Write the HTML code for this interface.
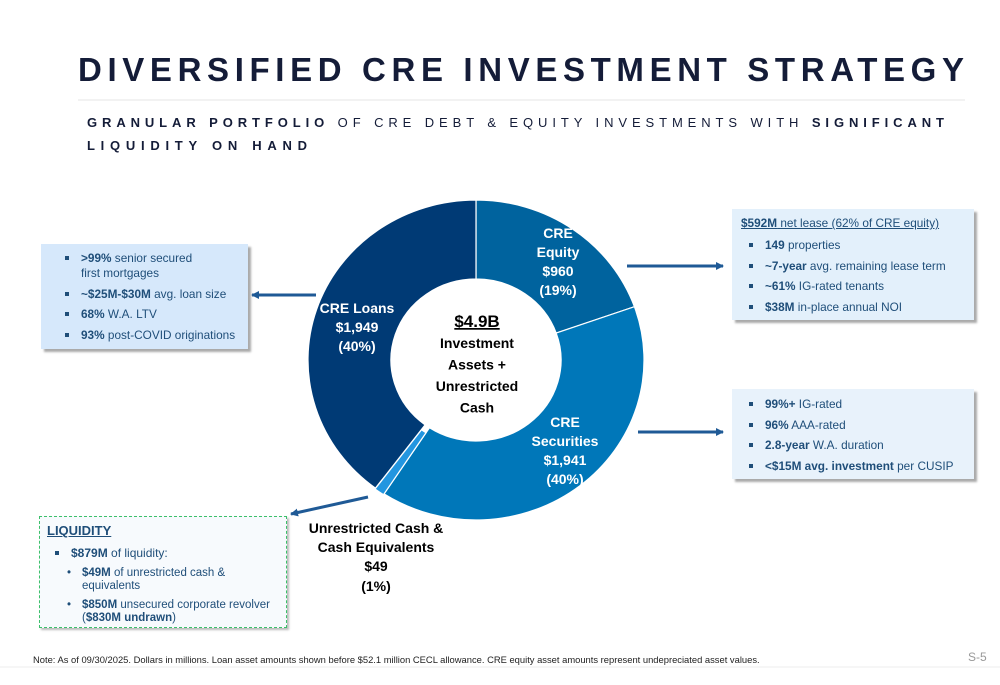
<!DOCTYPE html>
<html><head><meta charset="utf-8"><style>
body{margin:0;background:#fff;font-family:"Liberation Sans",sans-serif;}
#page{position:relative;width:1000px;height:685px;overflow:hidden;background:#fff}
.box{position:absolute;box-sizing:border-box;color:#1f4e79;font-size:12px;}
.box ul{margin:0;padding:0;list-style:none}
.box li{position:relative;padding-left:24px;line-height:15px;margin-bottom:5.5px}
.box li:before{content:"";position:absolute;left:8px;top:5px;width:4px;height:4px;background:#1f4e79}
b{font-weight:bold}
</style></head><body>
<div id="page">
<svg width="1000" height="685" style="position:absolute;left:0;top:0">
 <defs>
  <marker id="ah" markerWidth="8" markerHeight="8" refX="7" refY="4" orient="auto" markerUnits="userSpaceOnUse"><path d="M0,0 L8,4 L0,8 Z" fill="#1f5a96"/></marker>
 </defs>
 <text x="78" y="81" textLength="886" lengthAdjust="spacing" font-size="33" font-weight="bold" fill="#141c38" font-family="Liberation Sans">DIVERSIFIED CRE INVESTMENT STRATEGY</text>
 <line x1="78" y1="100" x2="965" y2="100" stroke="#e6e6e6" stroke-width="1"/>
 <text x="87" y="127" textLength="857" lengthAdjust="spacing" font-size="13" fill="#141c38"><tspan font-weight="bold">GRANULAR PORTFOLIO</tspan> OF CRE DEBT &amp; EQUITY INVESTMENTS WITH <tspan font-weight="bold">SIGNIFICANT</tspan></text>
 <text x="87" y="150" textLength="220" lengthAdjust="spacing" font-size="13" font-weight="bold" fill="#141c38">LIQUIDITY ON HAND</text>
 <g id="donut"></g>
 <g font-family="Liberation Sans" font-weight="bold" text-anchor="middle" font-size="14">
  <text x="558" y="238" fill="#fff"><tspan x="558">CRE</tspan><tspan x="558" dy="19">Equity</tspan><tspan x="558" dy="19">$960</tspan><tspan x="558" dy="19">(19%)</tspan></text>
  <text x="565" y="427" fill="#fff"><tspan x="565">CRE</tspan><tspan x="565" dy="19">Securities</tspan><tspan x="565" dy="19">$1,941</tspan><tspan x="565" dy="19">(40%)</tspan></text>
  <text x="357" y="313" fill="#fff"><tspan x="357">CRE Loans</tspan><tspan x="357" dy="19">$1,949</tspan><tspan x="357" dy="19">(40%)</tspan></text>
  <text x="477" y="327" fill="#000" font-size="17" text-decoration="underline">$4.9B</text>
  <text x="477" y="348" fill="#000"><tspan x="477">Investment</tspan><tspan x="477" dy="21.5">Assets +</tspan><tspan x="477" dy="21.5">Unrestricted</tspan><tspan x="477" dy="21.5">Cash</tspan></text>
  <text x="376" y="533" fill="#000"><tspan x="376">Unrestricted Cash &amp;</tspan><tspan x="376" dy="19">Cash Equivalents</tspan><tspan x="376" dy="19">$49</tspan><tspan x="376" dy="20">(1%)</tspan></text>
 </g>
 <g stroke="#1f5a96" stroke-width="3" marker-end="url(#ah)">
  <line x1="316" y1="295" x2="252" y2="295"/>
  <line x1="627" y1="266" x2="723" y2="266"/>
  <line x1="638" y1="432" x2="723" y2="432"/>
  <line x1="368" y1="497" x2="291" y2="514"/>
 </g>
 <text x="33" y="663" font-size="9.4" fill="#222">Note: As of 09/30/2025. Dollars in millions.  Loan asset amounts shown before $52.1 million CECL allowance.  CRE equity asset amounts represent undepreciated asset values.</text>
 <line x1="0" y1="667" x2="1000" y2="667" stroke="#eee"/>
 <text x="968" y="661" font-size="12" fill="#999">S-5</text>
</svg>

<div class="box" style="left:41px;top:244px;width:207px;height:105px;background:#d6e8fb;box-shadow:3px 3px 2px #aaa;padding:7px 0 0 16px;font-size:11.8px">
<ul><li><b>&gt;99%</b> senior secured<br>first mortgages</li><li><b>~$25M-$30M</b> avg. loan size</li><li><b>68%</b> W.A. LTV</li><li><b>93%</b> post-COVID originations</li></ul></div>

<div class="box" style="left:732px;top:209px;width:242px;height:111px;background:#e3f0fb;box-shadow:3px 3px 2px #aaa;padding:7px 0 0 9px;font-size:11.8px">
<div style="text-decoration:underline;margin-bottom:7px;line-height:15px"><b>$592M</b> net lease (62% of CRE equity)</div>
<ul><li><b>149</b> properties</li><li><b>~7-year</b> avg. remaining lease term</li><li><b>~61%</b> IG-rated tenants</li><li><b>$38M</b> in-place annual NOI</li></ul></div>

<div class="box" style="left:732px;top:389px;width:242px;height:90px;background:#e8f2fb;box-shadow:3px 3px 2px #aaa;padding:8px 0 0 9px;font-size:11.8px">
<ul><li><b>99%+</b> IG-rated</li><li><b>96%</b> AAA-rated</li><li><b>2.8-year</b> W.A. duration</li><li><b>&lt;$15M avg. investment</b> per CUSIP</li></ul></div>

<div class="box" style="left:39px;top:516px;width:248px;height:112px;background:#f7fafd;border:1.5px dashed #3cc06a;box-shadow:2px 2px 2px #bbb;padding:6px 0 0 7px;">
<div style="text-decoration:underline;font-weight:bold;font-size:13px;margin-bottom:8px">LIQUIDITY</div>
<ul><li style="margin-bottom:6px"><b>$879M</b> of liquidity:</li></ul>
<div style="padding-left:35px;position:relative;line-height:13px;font-size:11.5px"><span style="position:absolute;left:20px">•</span><b>$49M</b> of unrestricted cash &amp;<br>equivalents</div>
<div style="padding-left:35px;position:relative;line-height:13px;font-size:11.5px;margin-top:6px"><span style="position:absolute;left:20px">•</span><b>$850M</b> unsecured corporate revolver<br>(<b>$830M undrawn</b>)</div></div>

<script>
const categories=["CRE Equity","CRE Securities","Unrestricted Cash","CRE Loans"];
const values=[960,1941,49,1949];
const colors=["#00639e","#0077b9","#2396e0","#003a75"];
const g=document.getElementById('donut');
const cx=476,cy=360,R=160,r=81,sx=1.05;
const total=values.reduce((a,b)=>a+b,0);
let a0=0;
function pt(rad,a,dx,dy){return [cx+dx+sx*rad*Math.sin(a),cy+dy-rad*Math.cos(a)];}
values.forEach((v,i)=>{
  const a1=a0+v/total*2*Math.PI;
  let dx=0,dy=0,Ro=R,ri=r;
  if(categories[i]==="Unrestricted Cash"){const m=(a0+a1)/2;dx=4*Math.sin(m);dy=-4*Math.cos(m);Ro=R-3;ri=r+2;}
  const p1=pt(Ro,a0,dx,dy),p2=pt(Ro,a1,dx,dy),p3=pt(ri,a1,dx,dy),p4=pt(ri,a0,dx,dy);
  const large=(a1-a0)>Math.PI?1:0;
  const p=document.createElementNS('http://www.w3.org/2000/svg','path');
  p.setAttribute('d',`M${p1} A${sx*Ro},${Ro} 0 ${large} 1 ${p2} L${p3} A${sx*ri},${ri} 0 ${large} 0 ${p4} Z`);
  p.setAttribute('fill',colors[i]);
  p.setAttribute('stroke','#fff');
  p.setAttribute('stroke-width','1.2');
  
  
  g.appendChild(p);
  a0=a1;
});
</script>
</div></body></html>
